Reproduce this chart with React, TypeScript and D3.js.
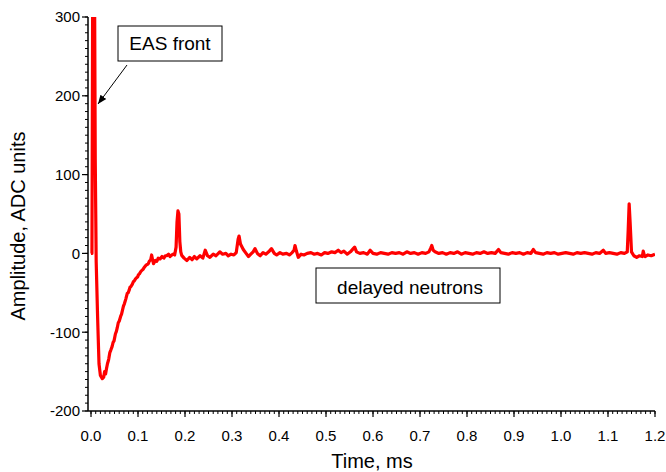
import React from "react";
import * as d3 from "d3";

// signal: [time ms, amplitude ADC units]
const frontPulse: [number, number][] = [
  [0, 0], [0.002, 0], [0.004, 420], [0.007, 420], [0.009, 120], [0.011, -10],
  [0.014, -80], [0.017, -140], [0.02, -155], [0.024, -159], [0.027, -157],
  [0.029, -150], [0.031, -153], [0.033, -146], [0.035, -140], [0.037, -136],
  [0.038, -133], [0.04, -126], [0.042, -123], [0.045, -118], [0.047, -113],
  [0.049, -111], [0.052, -102], [0.054, -99], [0.056, -94], [0.058, -88],
  [0.06, -86], [0.063, -80], [0.065, -77], [0.067, -72], [0.069, -67],
  [0.071, -64], [0.074, -58], [0.077, -51], [0.079, -50], [0.081, -47],
  [0.083, -43], [0.085, -42], [0.088, -39], [0.09, -36], [0.092, -35],
  [0.095, -32], [0.097, -31], [0.099, -30], [0.101, -27], [0.103, -26],
  [0.106, -23], [0.109, -21], [0.111, -20], [0.113, -18], [0.117, -15],
  [0.12, -14], [0.122, -13], [0.124, -10], [0.127, -8], [0.129, -2],
  [0.131, -8], [0.133, -13], [0.137, -9], [0.14, -10], [0.143, -6],
  [0.147, -7], [0.151, -4], [0.155, -6], [0.158, -3], [0.161, -3],
  [0.165, -1], [0.168, -4], [0.172, -2], [0.175, -1], [0.178, -2],
  [0.181, 8], [0.183, 40], [0.185, 54], [0.187, 50], [0.189, 15], [0.191, 2],
];

const earlyBaseline: [number, number][] = [
  [0.193, -2.5], [0.198, -6], [0.204, -9], [0.21, -5], [0.215, -8], [0.22, -4],
  [0.225, -7], [0.232, -3], [0.238, -6], [0.243, 4], [0.248, -3], [0.253, -5],
  [0.26, -1], [0.266, -3], [0.274, 2], [0.28, -1], [0.287, 0], [0.292, -3],
  [0.298, -1], [0.304, -2], [0.309, 1], [0.313, 18], [0.315, 22], [0.318, 12],
  [0.324, 5], [0.33, 0], [0.335, -4], [0.34, -1], [0.345, 2], [0.349, 6],
  [0.354, 0], [0.36, -3], [0.366, 1], [0.372, -1], [0.378, 2], [0.384, 6],
  [0.39, 0], [0.395, -2], [0.402, 1], [0.408, -1], [0.416, 0], [0.422, -2],
  [0.428, 1], [0.432, 4], [0.434, 10], [0.437, 3], [0.441, -5], [0.447, -1],
  [0.453, -2], [0.46, 0], [0.468, 1], [0.475, -1], [0.482, 0], [0.49, -2],
  [0.497, 1], [0.504, 0], [0.512, 2], [0.519, 1], [0.526, 4], [0.532, 1],
  [0.538, 3], [0.545, -1], [0.552, 2], [0.558, 6], [0.561, 8], [0.565, 2],
  [0.572, 0], [0.58, 1], [0.588, -1], [0.594, 4], [0.6, 0],
];

const lateBaseline: [number, number][] = [
  [0.608, -1], [0.616, 1], [0.624, 0], [0.632, -1], [0.64, 1], [0.648, 0],
  [0.656, 1], [0.664, -1], [0.672, 2], [0.68, 0], [0.688, 1], [0.696, -1],
  [0.704, 1], [0.712, 0], [0.719, 2], [0.723, 7], [0.725, 10], [0.728, 4],
  [0.732, 2], [0.74, 0], [0.748, 1], [0.756, -1], [0.764, 1], [0.772, 0],
  [0.78, 2], [0.788, -1], [0.796, 1], [0.804, 0], [0.812, -1], [0.82, 1],
  [0.828, 0], [0.836, 2], [0.844, 0], [0.852, 1], [0.86, 0], [0.867, 5],
  [0.872, 1], [0.88, 0], [0.888, -1], [0.896, 1], [0.904, 0], [0.912, 1],
  [0.92, -1], [0.928, 1], [0.936, 0], [0.941, 5], [0.946, 1], [0.954, 0],
  [0.962, -1], [0.97, 1], [0.978, 0], [0.986, 1], [0.994, -1], [1.002, 0],
  [1.01, 1], [1.018, 0], [1.026, -1], [1.034, 1], [1.042, 0], [1.05, 1],
  [1.058, 0], [1.066, -1], [1.074, 1], [1.082, 0], [1.09, 4], [1.095, 0],
  [1.103, 1], [1.111, 0], [1.119, -1], [1.127, 1], [1.135, 0], [1.141, 2],
  [1.143, 30], [1.145, 63], [1.147, 40], [1.15, 2], [1.155, -3], [1.161, -5],
  [1.167, -3], [1.173, -4], [1.175, 3], [1.177, -2], [1.179, -4], [1.185, -2],
  [1.192, -3], [1.2, -1],
];

const xTicks = [0, 0.1, 0.2, 0.3, 0.4, 0.5, 0.6, 0.7, 0.8, 0.9, 1.0, 1.1, 1.2];
const yTicks = [-200, -100, 0, 100, 200, 300];

const font = "'Liberation Sans', Arial, sans-serif";

export default function App() {
  const width = 666;
  const height = 472;

  const x = d3.scaleLinear().domain([-0.0064, 1.2]).range([88, 655]);
  const y = d3.scaleLinear().domain([-200, 300]).range([411, 17]);

  const signal = [...frontPulse, ...earlyBaseline, ...lateBaseline];
  const line = d3
    .line<[number, number]>()
    .x((d) => x(d[0]))
    .y((d) => y(d[1]));

  const xMinor = d3.range(0, 121).map((i) => i / 100);
  const yMinor = d3.range(-200, 301, 10);

  const [x0, x1] = x.range();
  const [yb, yt] = y.range();

  return (
    <svg
      width={width}
      height={height}
      style={{ position: "absolute", left: 0, top: 0, background: "#fff" }}
      fontFamily={font}
    >
      <defs>
        <clipPath id="plot">
          <rect x={x0} y={yt} width={x1 - x0} height={yb - yt} />
        </clipPath>
        <marker
          id="arrow"
          viewBox="0 0 10 10"
          refX="10"
          refY="5"
          markerWidth="9"
          markerHeight="9"
          orient="auto"
          markerUnits="userSpaceOnUse"
        >
          <path d="M0,1 L10,5 L0,9 z" fill="#000" />
        </marker>
      </defs>

      <path
        d={line(signal) ?? ""}
        fill="none"
        stroke="#ff0000"
        strokeWidth={3.2}
        strokeLinejoin="round"
        clipPath="url(#plot)"
      />

      {/* y axis */}
      <line x1={x0} x2={x0} y1={yt} y2={yb} stroke="#000" strokeWidth={1.5} />
      {yMinor.map((v) => (
        <line key={"ym" + v} x1={x0 - 3} x2={x0} y1={y(v)} y2={y(v)} stroke="#000" />
      ))}
      {yTicks.map((v) => (
        <g key={"y" + v}>
          <line x1={x0 - 6} x2={x0} y1={y(v)} y2={y(v)} stroke="#000" strokeWidth={1.2} />
          <text x={x0 - 8} y={y(v)} dy="0.36em" textAnchor="end" fontSize={15}>
            {v}
          </text>
        </g>
      ))}

      {/* x axis */}
      <line x1={x0} x2={x1} y1={yb} y2={yb} stroke="#000" strokeWidth={1.5} />
      {xMinor.map((v) => (
        <line key={"xm" + v} x1={x(v)} x2={x(v)} y1={yb} y2={yb + 3} stroke="#000" />
      ))}
      {xTicks.map((v) => (
        <g key={"x" + v}>
          <line x1={x(v)} x2={x(v)} y1={yb} y2={yb + 6} stroke="#000" strokeWidth={1.2} />
          <text x={x(v)} y={yb + 30} textAnchor="middle" fontSize={15}>
            {v.toFixed(1)}
          </text>
        </g>
      ))}

      <text x={372} y={468} textAnchor="middle" fontSize={20}>
        Time, ms
      </text>
      <text
        transform={`translate(25, 226) rotate(-90)`}
        textAnchor="middle"
        fontSize={20}
      >
        Amplitude, ADC units
      </text>

      {/* annotations */}
      <rect x={118} y={26} width={104} height={35} fill="#fff" stroke="#000" />
      <text x={170} y={50} textAnchor="middle" fontSize={19}>
        EAS front
      </text>
      <line x1={127} y1={65} x2={98} y2={104} stroke="#000" markerEnd="url(#arrow)" />

      <rect x={316} y={268} width={184} height={35} fill="#fff" stroke="#000" />
      <text x={410} y={294} textAnchor="middle" fontSize={19}>
        delayed neutrons
      </text>
    </svg>
  );
}
